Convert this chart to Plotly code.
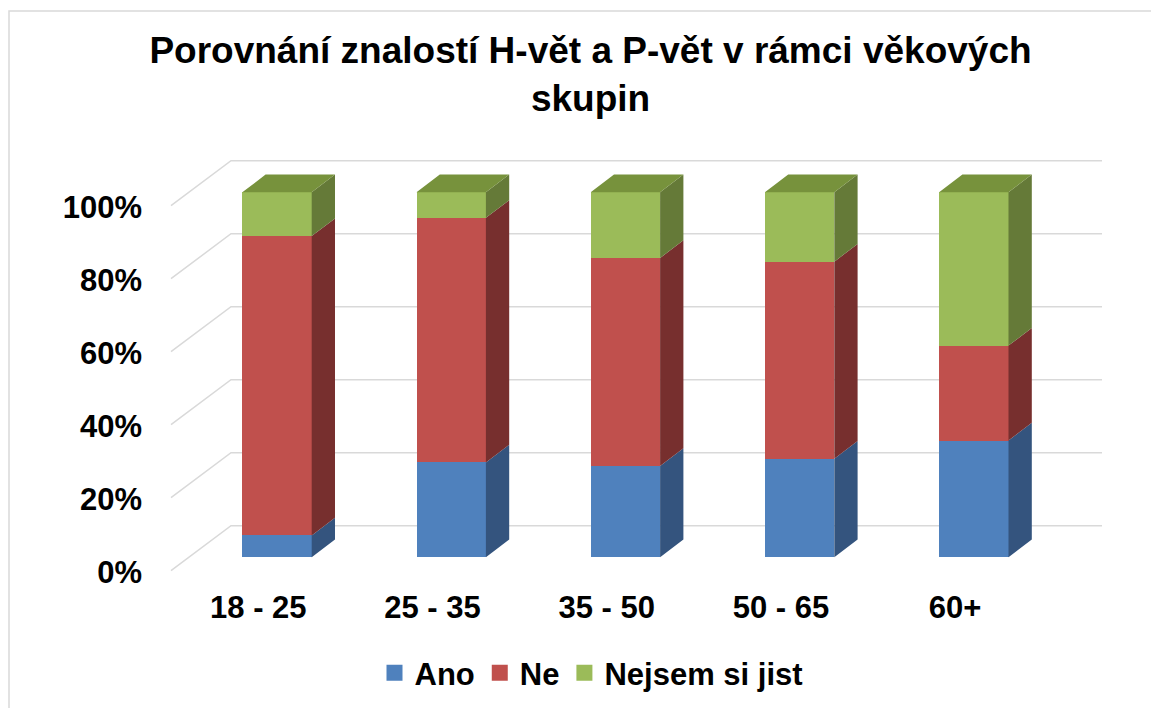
import plotly.graph_objects as go
import numpy as np

# ---------------- data ----------------
categories = ["18 - 25", "25 - 35", "35 - 50", "50 - 65", "60+"]
ano = [6, 26, 25, 27, 32]
ne = [82, 67, 57, 54, 26]
nejsem = [12, 7, 18, 19, 42]
series_names = ["Ano", "Ne", "Nejsem si jist"]
tick_values = [0, 20, 40, 60, 80, 100]
tick_labels = ["0%", "20%", "40%", "60%", "80%", "100%"]

front_colors = ["#4f81bd", "#c0504d", "#9bbb59"]
side_colors = ["#34547e", "#772f2e", "#657a38"]
top_color = "#77923c"
grid_color = "#d9d9d9"
FONT = "Liberation Sans"

# ---------------- geometry (page pixels -> data units) ----------------
OFF = 8                       # page body margin
W, H = 1159 - OFF, 708 - OFF  # figure size
L, R, T, B = 150, 1110, 140, 586   # plot area in page px
PX_CAT = 174.2          # px per category
PX_PCT = 3.65           # px per percent
X0_PX = 277.0           # page px of first bar front-face centre
Y0_PX = 557.3           # page px of 0 % on bar front face

def dx(px):
    return px / PX_CAT

def dy(px):
    return px / PX_PCT

bar_w = dx(69.4)
depth_x, depth_y = dx(23.3), dy(17.7)         # bar depth
front_x, front_y = dx(-18.7), dy(-13.4)       # front plane of floor/walls
back_x, back_y = dx(41.3), dy(31.6)           # back wall plane
wall_left = dx(171 - X0_PX)                   # left edge (front plane)
wall_back_left = dx(231 - X0_PX)
wall_right = dx(1102 - X0_PX)                 # right edge (back plane)

xr = [dx(L - X0_PX), dx(R - X0_PX)]
yr = [dy(Y0_PX - B), dy(Y0_PX - T)]

idx = np.arange(len(categories), dtype=float)
vals = np.array([ano, ne, nejsem], dtype=float)
tops = np.cumsum(vals, axis=0)
bases = tops - vals

fig = go.Figure()

# front faces
for k, name in enumerate(series_names):
    fig.add_trace(go.Bar(
        x=idx, y=vals[k], base=bases[k], width=bar_w, name=name,
        marker=dict(color=front_colors[k], line=dict(width=0)),
        showlegend=False, hovertemplate="%{y}%<extra>" + name + "</extra>",
    ))

# right side faces
for k, name in enumerate(series_names):
    xs, ys = [], []
    for i in range(len(categories)):
        x1 = idx[i] + bar_w / 2
        b, t = bases[k][i], tops[k][i]
        xs += [x1, x1 + depth_x, x1 + depth_x, x1, x1, None]
        ys += [b, b + depth_y, t + depth_y, t, b, None]
    fig.add_trace(go.Scatter(
        x=xs, y=ys, mode="lines", fill="toself", fillcolor=side_colors[k],
        line=dict(width=0, color=side_colors[k]), showlegend=False, hoverinfo="skip",
    ))

# top faces (top of stack)
xs, ys = [], []
for i in range(len(categories)):
    x0 = idx[i] - bar_w / 2
    x1 = idx[i] + bar_w / 2
    t = tops[-1][i]
    xs += [x0, x0 + depth_x, x1 + depth_x, x1, x0, None]
    ys += [t, t + depth_y, t + depth_y, t, t, None]
fig.add_trace(go.Scatter(
    x=xs, y=ys, mode="lines", fill="toself", fillcolor=top_color,
    line=dict(width=0, color=top_color), showlegend=False, hoverinfo="skip",
))

# legend entries
for k, name in enumerate(series_names):
    fig.add_trace(go.Scatter(
        x=[None], y=[None], mode="markers", name=name,
        marker=dict(symbol="square", size=17, color=front_colors[k]),
    ))

# gridlines on side and back wall
shapes = []
for v in tick_values:
    path = (f"M{wall_left},{v + front_y} L{wall_back_left},{v + back_y} "
            f"L{wall_right},{v + back_y}")
    shapes.append(dict(type="path", path=path, xref="x", yref="y", layer="below",
                       line=dict(color=grid_color, width=1.5)))

# chart border (only top and left edges are visible in the original)
def px_paper_x(px):
    return (px - L) / (R - L)

def px_paper_y(py):
    return (B - py) / (B - T)

shapes.append(dict(type="rect", xref="paper", yref="paper",
                   x0=px_paper_x(9), x1=px_paper_x(1175),
                   y0=px_paper_y(730), y1=px_paper_y(11),
                   line=dict(color="#d9d9d9", width=1.5), layer="below"))

fig.update_layout(
    width=W, height=H, autosize=False,
    margin=dict(l=L - OFF, r=W - (R - OFF), t=T - OFF, b=H - (B - OFF)),
    paper_bgcolor="white", plot_bgcolor="white",
    barmode="overlay",
    bargap=0,
    shapes=shapes,
    title=dict(
        text="Porovnání znalostí H-vět a P-vět v rámci věkových<br>skupin",
        font=dict(family=FONT, size=37, color="black", weight="bold"),
        x=582.5 / W, xanchor="center", xref="container",
        y=1 - 55 / H, yanchor="middle", yref="container",
    ),
    legend=dict(
        orientation="h", xref="container", yref="container",
        x=583.5 / W, xanchor="center", y=1 - 665 / H, yanchor="middle",
        font=dict(family=FONT, size=31, color="black", weight="bold"),
        itemwidth=30, bgcolor="rgba(0,0,0,0)",
    ),
    xaxis=dict(
        range=xr, tickvals=list(idx + front_x), ticktext=categories,
        showgrid=False, zeroline=False, showline=False, ticks="",
        tickfont=dict(family=FONT, size=31, color="black", weight="bold"),
        fixedrange=True,
    ),
    yaxis=dict(
        range=yr, tickvals=tick_values, ticktext=tick_labels,
        showgrid=False, zeroline=False, showline=False, ticks="",
        ticklabelshift=15, ticklabelstandoff=7,
        tickfont=dict(family=FONT, size=31, color="black", weight="bold"),
        fixedrange=True,
    ),
)

fig.write_html("out.html")
